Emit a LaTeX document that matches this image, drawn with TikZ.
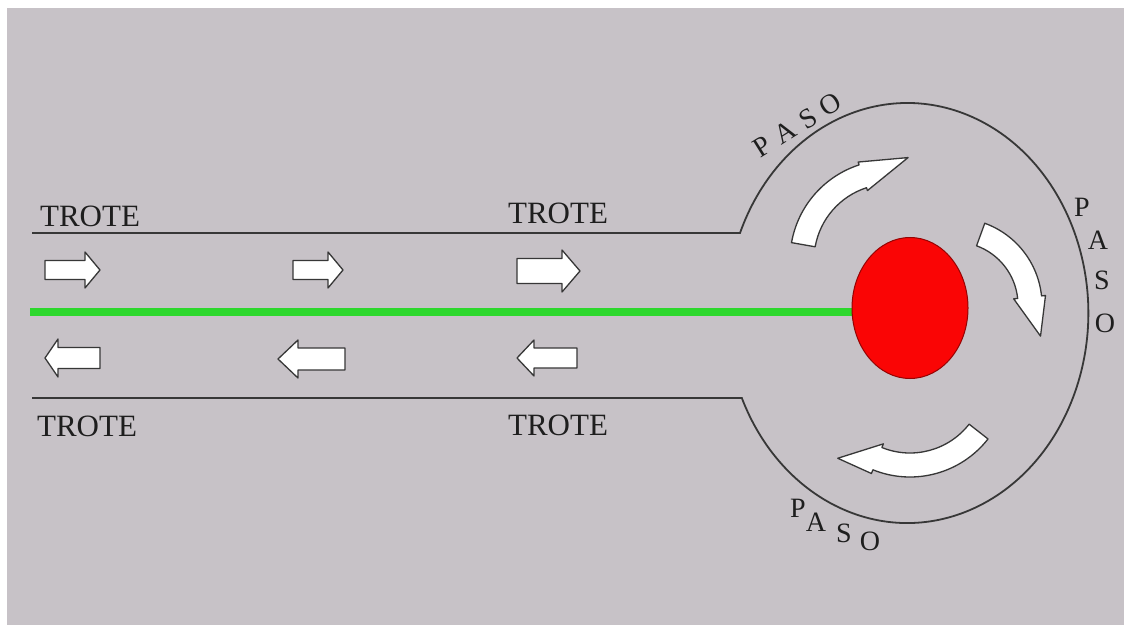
\documentclass[tikz,border=0pt]{standalone}
\usepackage{fontspec}
\setmainfont{Liberation Serif}
\usetikzlibrary{shapes.geometric}
\definecolor{bgc}{RGB}{199,194,199}
\definecolor{ln}{RGB}{55,55,55}
\definecolor{grn}{RGB}{45,215,45}
\definecolor{rd}{RGB}{250,5,5}
\definecolor{txt}{RGB}{30,30,30}
\tikzset{
  blk/.style={draw=ln, line width=1.3pt, fill=white, line join=round},
  outline/.style={draw=ln, line width=1.8pt},
  trote/.style={inner sep=0pt, font=\fontsize{31}{31}\selectfont, text=txt},
  paso/.style={inner sep=0pt, font=\fontsize{28}{28}\selectfont, text=txt},
  pics/barrow/.style n args={4}{code={%
    \draw[blk] (0,-#2) -- ({#1-#4},-#2) -- ({#1-#4},-#3) -- (#1,0) -- ({#1-#4},#3) -- ({#1-#4},#2) -- (0,#2) -- cycle;}}
}
% #1 centre, #2 radius, #3 half band, #4 tail angle, #5 head-base angle, #6 half head, #7 tip angle, #8 tip radius
\newcommand\crvarrow[8]{%
  \begin{scope}[shift={#1}]
    \draw[blk] (#4:{#2+#3}) arc[start angle=#4, end angle=#5, radius={#2+#3}]
      -- (#5:{#2+#6}) -- (#7:#8) -- (#5:{#2-#6}) -- (#5:{#2-#3})
      arc[start angle=#5, end angle=#4, radius={#2-#3}] -- cycle;
  \end{scope}}
\begin{document}
\begin{tikzpicture}[x=1pt,y=1pt]
\useasboundingbox (0,0) rectangle (1124,625);
\fill[white] (0,0) rectangle (1124,625);
\fill[bgc] (7,0) rectangle (1124,617);

% track outline
\draw[outline] (32,392) -- (740,392)
  arc[start angle=157.6, end angle=-156.1, x radius=181, y radius=210]
  -- (32,227);

% green line and red ball
\draw[grn, line width=8pt] (30,313) -- (858,313);
\node[ellipse, draw=rd!60!black, line width=1pt, fill=rd, minimum width=116pt, minimum height=141pt, inner sep=0pt] (ball) at (910,317) {};

% straight arrows, top row (to the right)
\pic at (45,355) {barrow={55}{9.5}{18}{15}};
\pic at (293,355) {barrow={50}{9.5}{18}{15}};
\pic at (517,354) {barrow={63}{12.5}{21}{18}};
% bottom row (to the left)
\pic[xscale=-1] at (100,267) {barrow={55}{10.5}{19}{13}};
\pic[xscale=-1] at (345,266) {barrow={67}{11}{19}{20}};
\pic[xscale=-1] at (577,267) {barrow={60}{10}{18}{17}};

% curved arrows
\crvarrow{(890,365)}{88}{12}{170}{108}{15}{80}{104}
\crvarrow{(955,320)}{75}{12}{70}{6}{16}{-20}{91}
\crvarrow{(910,247)}{87}{12}{-38}{-112}{16}{-132}{108}

% labels
\node[trote] (t1) at (90,409) {TROTE};
\node[trote] (t2) at (558,412) {TROTE};
\node[trote] (t3) at (87,199) {TROTE};
\node[trote] (t4) at (558,200) {TROTE};

\node[paso, rotate=32] (p1) at (797.5,500) {P\hspace{9pt}A\hspace{9pt}S\hspace{9pt}O};

\node[paso] (p2a) at (1082,418) {P};
\node[paso] (p2b) at (1098,385) {A};
\node[paso] (p2c) at (1102,345) {S};
\node[paso] (p2d) at (1105,302) {O};

\node[paso] (p3a) at (798,117) {P};
\node[paso] (p3b) at (816,103) {A};
\node[paso] (p3c) at (844,92) {S};
\node[paso] (p3d) at (870,84) {O};
\end{tikzpicture}
\end{document}
